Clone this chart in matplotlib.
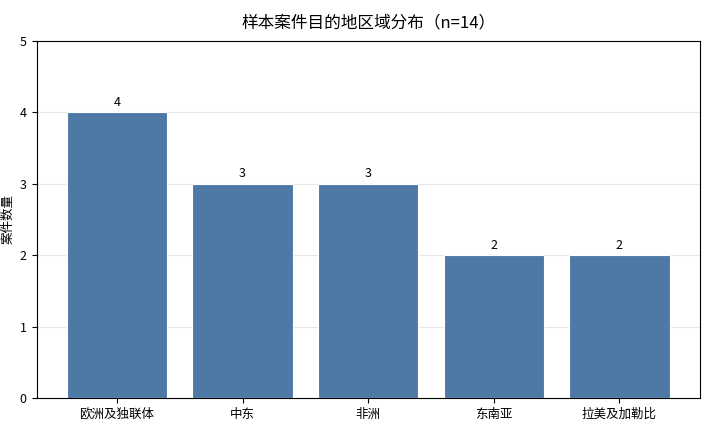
import matplotlib
matplotlib.use("Agg")
import matplotlib.pyplot as plt

plt.rcParams["font.family"] = ["Noto Sans CJK SC", "DejaVu Sans"]

regions = ["欧洲及独联体", "中东", "非洲", "东南亚", "拉美及加勒比"]
counts = [4, 3, 3, 2, 2]
total = sum(counts)

fig = plt.figure(figsize=(7.17, 4.34), dpi=100)
ax = fig.add_axes([0.051, 0.083, 0.925, 0.823])

bars = ax.bar(regions, counts, width=0.8, color="#4e79a7", edgecolor="white", linewidth=0.8, zorder=3)
for b, v in zip(bars, counts):
    ax.text(b.get_x() + b.get_width() / 2, v + 0.05, str(v), ha="center", va="bottom", fontsize=9)

ax.set_ylim(0, 5)
ax.set_yticks(range(0, 6))
ax.set_ylabel("案件数量", fontsize=9)
ax.set_title(f"样本案件目的地区域分布（n={total}）", fontsize=12, pad=10)
ax.grid(axis="y", color="#e6e6e6", linewidth=0.8, zorder=0)
ax.tick_params(labelsize=9)

fig.savefig("out.png", dpi=100)
